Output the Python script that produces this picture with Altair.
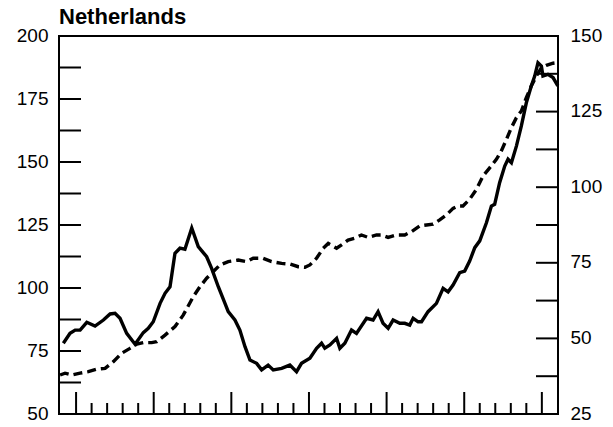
import altair as alt
import pandas as pd

# Solid line (left axis): real house price index
solid_year = [1971.18, 1971.61, 1971.94, 1972.26, 1972.69, 1973.22, 1973.76, 1974.19, 1974.51, 1974.83,
              1975.26, 1975.80, 1976.33, 1976.65, 1976.97, 1977.41, 1977.73, 1978.05, 1978.37, 1978.69,
              1979.01, 1979.45, 1979.87, 1980.41, 1980.73, 1981.16, 1981.59, 1981.80, 1982.23, 1982.55,
              1982.88, 1983.20, 1983.63, 1983.95, 1984.37, 1984.70, 1985.24, 1985.77, 1986.20, 1986.52,
              1987.06, 1987.49, 1987.81, 1988.02, 1988.35, 1988.78, 1988.99, 1989.31, 1989.74, 1990.06,
              1990.71, 1991.13, 1991.45, 1991.77, 1992.10, 1992.42, 1992.85, 1993.17, 1993.49, 1993.71,
              1994.03, 1994.25, 1994.67, 1995.21, 1995.64, 1995.96, 1996.28, 1996.71, 1997.03, 1997.35,
              1997.68, 1998.00, 1998.43, 1998.75, 1998.96, 1999.28, 1999.61, 1999.82, 2000.04, 2000.36,
              2000.68, 2001.00, 2001.32, 2001.54, 2001.75, 2001.97, 2002.07, 2002.39, 2002.72, 2003.03]
solid_value = [78.1, 82.0, 83.3, 83.3, 86.4, 84.9, 87.3, 89.7, 90.0, 88.0,
               82.0, 77.7, 82.3, 84.0, 86.6, 93.9, 97.9, 100.5, 113.8, 115.8,
               115.4, 123.8, 116.4, 112.4, 107.8, 100.5, 93.9, 90.6, 87.3, 83.3,
               76.7, 71.4, 70.1, 67.5, 69.4, 67.5, 68.1, 69.4, 66.8, 70.1,
               72.1, 76.1, 78.1, 76.1, 77.4, 80.0, 76.1, 78.1, 83.3, 82.0,
               88.0, 87.3, 90.6, 86.0, 84.0, 87.3, 86.0, 86.0, 85.3, 88.0,
               86.6, 86.6, 90.6, 93.9, 99.9, 98.5, 101.2, 106.1, 106.7, 110.7,
               116.0, 118.7, 125.9, 132.5, 133.2, 141.8, 148.4, 151.1, 149.7, 156.3,
               164.3, 173.5, 180.2, 184.1, 189.4, 188.1, 184.1, 184.8, 183.5, 180.2]

# Dashed line (right axis)
dash_year = [1970.97, 1971.29, 1971.72, 1972.26, 1972.79, 1973.33, 1973.87, 1974.40, 1974.94, 1975.47,
             1975.91, 1976.33, 1976.87, 1977.19, 1977.73, 1978.37, 1978.90, 1979.55, 1979.98, 1980.41,
             1980.84, 1981.27, 1981.80, 1982.44, 1982.98, 1983.41, 1984.05, 1984.59, 1985.24, 1985.77,
             1986.31, 1986.74, 1987.06, 1987.49, 1987.91, 1988.24, 1988.78, 1989.10, 1989.52, 1989.95,
             1990.38, 1990.81, 1991.35, 1991.67, 1992.10, 1992.64, 1993.17, 1993.60, 1994.14, 1994.57,
             1994.99, 1995.42, 1995.85, 1996.28, 1996.60, 1996.92, 1997.35, 1997.79, 1998.21, 1998.64,
             1999.07, 1999.39, 1999.72, 2000.04, 2000.36, 2000.68, 2001.00, 2001.32, 2001.65, 2001.97,
             2002.29, 2002.72, 2003.03]
dash_value = [37.9, 38.5, 37.9, 38.5, 39.0, 39.8, 40.1, 42.3, 45.1, 46.7,
              48.1, 48.6, 48.6, 48.9, 51.1, 53.9, 57.7, 63.8, 67.1, 69.9,
              72.1, 74.3, 75.4, 75.9, 75.4, 76.5, 76.5, 75.4, 74.8, 74.6,
              73.7, 73.5, 74.3, 76.5, 79.8, 81.4, 79.8, 80.9, 82.5, 83.1,
              84.2, 83.4, 84.2, 84.2, 83.4, 84.2, 84.2, 85.3, 87.2, 87.5,
              87.8, 89.2, 90.8, 93.0, 93.8, 93.8, 96.0, 99.3, 103.7, 106.4,
              109.2, 112.0, 115.8, 119.7, 123.0, 125.2, 129.6, 133.5, 136.8, 139.5,
              140.3, 141.0, 141.2]

title_text = ["Netherlands"]
left_labels = [50, 75, 100, 125, 150, 175, 200]
left_ticks = [50, 62.5, 75, 87.5, 100, 112.5, 125, 137.5, 150, 162.5, 175, 187.5, 200]
right_labels = [25, 50, 75, 100, 125, 150]
right_ticks = [25, 37.5, 50, 62.5, 75, 87.5, 100, 112.5, 125, 137.5, 150]
major_years = [1972, 1977, 1982, 1987, 1992, 1997, 2002]
minor_years = [y for y in range(1973, 2002) if y not in major_years]

W, H = 499, 378
FONT = "Liberation Sans"

xscale = alt.Scale(domain=[1970.9, 2003.04], nice=False, zero=False)
lscale = alt.Scale(domain=[50, 200], nice=False, zero=False)
rscale = alt.Scale(domain=[25, 150], nice=False, zero=False)

solid_df = pd.DataFrame({"year": solid_year, "value": solid_value})
dash_df = pd.DataFrame({"year": dash_year, "value": dash_value})

solid = alt.Chart(solid_df).mark_line(color="black", strokeWidth=3.4).encode(
    x=alt.X("year:Q", scale=xscale, axis=None),
    y=alt.Y("value:Q", scale=lscale,
            axis=alt.Axis(values=left_labels, orient="left", domain=False, ticks=False, grid=False,
                          labelFontSize=19, labelFont=FONT, labelColor="black", labelPadding=11,
                          labelOffset=-1, title=None)),
)

dashed = alt.Chart(dash_df).mark_line(color="black", strokeWidth=3.4, strokeDash=[9, 5]).encode(
    x=alt.X("year:Q", scale=xscale, axis=None),
    y=alt.Y("value:Q", scale=rscale,
            axis=alt.Axis(values=right_labels, orient="right", domain=False, ticks=False, grid=False,
                          labelFontSize=19, labelFont=FONT, labelColor="black", labelPadding=12,
                          labelOffset=-1, title=None)),
)

lt = alt.Chart(pd.DataFrame({"v": left_ticks})).mark_rule(color="black", strokeWidth=2).encode(
    y=alt.Y("v:Q", scale=lscale, axis=None), x=alt.value(0), x2=alt.value(22))
rt = alt.Chart(pd.DataFrame({"v": right_ticks})).mark_rule(color="black", strokeWidth=2).encode(
    y=alt.Y("v:Q", scale=rscale, axis=None), x=alt.value(W - 22), x2=alt.value(W))
xmaj = alt.Chart(pd.DataFrame({"year": major_years})).mark_rule(color="black", strokeWidth=2).encode(
    x=alt.X("year:Q", scale=xscale, axis=None), y=alt.value(H), y2=alt.value(H - 22))
xmin = alt.Chart(pd.DataFrame({"year": minor_years})).mark_rule(color="black", strokeWidth=2).encode(
    x=alt.X("year:Q", scale=xscale, axis=None), y=alt.value(H), y2=alt.value(H - 11))

title = alt.Chart(pd.DataFrame({"t": title_text})).mark_text(
    align="left", baseline="alphabetic", font=FONT, fontSize=22, fontWeight="bold", color="black"
).encode(text="t:N", x=alt.value(0), y=alt.value(-12))

chart = alt.layer(solid, lt, dashed, rt, xmaj, xmin, title).resolve_scale(y="independent").properties(
    width=W, height=H,
    autosize=alt.AutoSizeParams(type="none"),
    padding={"left": 51, "top": 28, "right": 46, "bottom": 12},
).configure_view(stroke="black", strokeWidth=2)

chart.save("out.html", embed_options={"renderer": "svg", "actions": False})
